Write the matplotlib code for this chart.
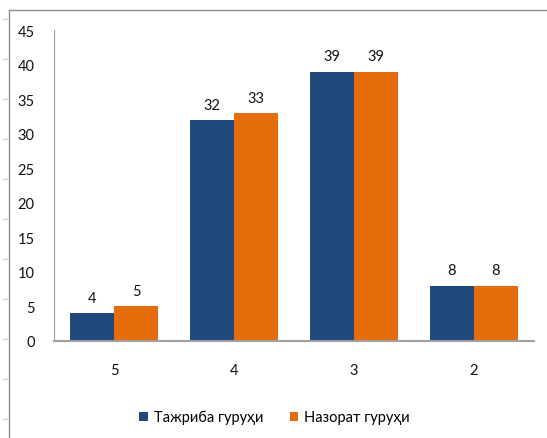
import numpy as np
import matplotlib.pyplot as plt
from matplotlib.lines import Line2D

plt.rcParams['font.family'] = ['Lato', 'DejaVu Sans']

categories = ['5', '4', '3', '2']
experiment = [4, 32, 39, 8]
control = [5, 33, 39, 8]
series_names = ['Тажриба гуруҳи', 'Назорат гуруҳи']

blue = '#1F497D'
orange = '#E46C0A'

fig = plt.figure(figsize=(5.47, 4.39), dpi=100)
ax = fig.add_axes([0.0987, 0.221, 0.877, 0.708])

x = np.arange(len(categories))
w = 0.367
b1 = ax.bar(x - w / 2, experiment, w, color=blue, label=series_names[0])
b2 = ax.bar(x + w / 2, control, w, color=orange, label=series_names[1])

for bars in (b1, b2):
    for rect in bars:
        ax.annotate(f'{rect.get_height():g}',
                    (rect.get_x() + rect.get_width() / 2, rect.get_height()),
                    xytext=(0, 6), textcoords='offset points',
                    ha='center', va='bottom', fontsize=10.5, color='#111111')

ax.set_xlim(-0.5, len(categories) - 0.5)
ax.set_ylim(0, 45)
ax.set_yticks(range(0, 46, 5))
ax.set_xticks(x)
ax.set_xticklabels(categories)
ax.tick_params(axis='both', length=0, labelsize=10.5, colors='#111111')
ax.tick_params(axis='y', pad=14)
ax.tick_params(axis='x', pad=16)
for s in ['top', 'right']:
    ax.spines[s].set_visible(False)
ax.spines['left'].set_color('#A0A0A0')
ax.spines['bottom'].set_color('#A0A0A0')
ax.spines['bottom'].set_linewidth(1.5)

ax.legend(loc='upper center', bbox_to_anchor=(0.46, -0.18), ncol=2,
          frameon=False, fontsize=10.5, handlelength=0.6, handleheight=0.6,
          columnspacing=1.8, handletextpad=0.4)

# outer frame like the sheet border
fig.add_artist(Line2D([9 / 547, 9 / 547], [0, 1 - 11 / 439],
                      transform=fig.transFigure, color='#8C8C8C', lw=1))
fig.add_artist(Line2D([9 / 547, 1], [1 - 11 / 439, 1 - 11 / 439],
                      transform=fig.transFigure, color='#8C8C8C', lw=1))
for yy in range(20, 439, 40):
    fig.add_artist(Line2D([3 / 547, 7 / 547], [1 - yy / 439, 1 - yy / 439],
                          transform=fig.transFigure, color='#D0D0D0', lw=0.8))

fig.savefig('out.png', dpi=100)
